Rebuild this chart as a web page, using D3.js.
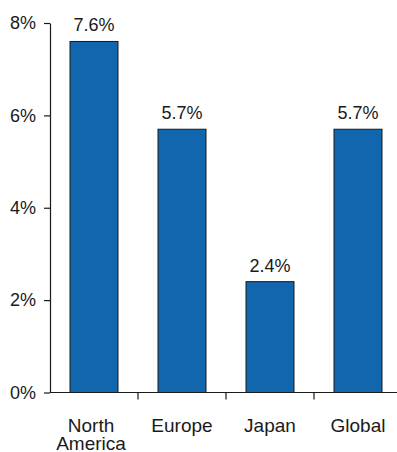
<!DOCTYPE html>
<html>
<head>
<meta charset="utf-8">
<script src="https://cdn.jsdelivr.net/npm/d3@7"></script>
<style>
  body { margin: 0; background: #fff; }
  svg { display: block; font-family: "Liberation Sans", Arial, sans-serif; }
</style>
</head>
<body>
<svg id="chart" width="397" height="452"></svg>
<script>
const categories = ["North America", "Europe", "Japan", "Global"];
const categoryLines = [["North", "America"], ["Europe"], ["Japan"], ["Global"]];
const values = [7.6, 5.7, 2.4, 5.7];
const valueLabels = ["7.6%", "5.7%", "2.4%", "5.7%"];
const yTicks = [0, 2, 4, 6, 8];
const yTickLabels = ["0%", "2%", "4%", "6%", "8%"];

(function () {
const svg = d3.select("#chart");
const mLeft = 50, mRight = 402, mTop = 23, mBottom = 392.5;

const x = d3.scaleBand().domain(categories).range([mLeft, mRight]).padding(0);
const y = d3.scaleLinear().domain([0, 8]).range([mBottom, mTop]);
const barFrac = 48 / 88;

// bars
svg.append("g").selectAll("rect").data(categories).join("rect")
  .attr("x", (c) => x(c) + x.bandwidth() * (1 - barFrac) / 2)
  .attr("width", x.bandwidth() * barFrac)
  .attr("y", (c, i) => y(values[i]))
  .attr("height", (c, i) => y(0) - y(values[i]))
  .attr("fill", "#1166ad")
  .attr("stroke", "#1a1a1a")
  .attr("stroke-width", 1);

// value labels
svg.append("g").selectAll("text").data(categories).join("text")
  .attr("x", (c) => x(c) + x.bandwidth() / 2)
  .attr("y", (c, i) => y(values[i]) - 10)
  .attr("text-anchor", "middle")
  .attr("font-size", 18)
  .attr("fill", "#1a1a1a")
  .text((c, i) => valueLabels[i]);

// y axis
const yAxis = d3.axisLeft(y).tickValues(yTicks)
  .tickFormat((d, i) => yTickLabels[i]).tickSize(6).tickPadding(8).tickSizeOuter(0);
const gy = svg.append("g").attr("transform", `translate(${mLeft},0)`).call(yAxis);
gy.selectAll("path, line").attr("stroke", "#1a1a1a").attr("stroke-width", 1.2);
gy.selectAll("text").attr("font-size", 18).attr("fill", "#1a1a1a")
  .attr("font-family", "'Liberation Sans', Arial, sans-serif");

// x axis line and boundary ticks
const gx = svg.append("g");
gx.append("line").attr("x1", mLeft).attr("x2", mRight).attr("y1", y(0)).attr("y2", y(0))
  .attr("stroke", "#1a1a1a").attr("stroke-width", 1.2);
gx.selectAll("line.tick").data(categories.slice(1)).join("line").attr("class", "tick")
  .attr("x1", (c) => x(c)).attr("x2", (c) => x(c))
  .attr("y1", y(0)).attr("y2", y(0) + 7)
  .attr("stroke", "#1a1a1a").attr("stroke-width", 1.2);

// category labels
const labels = gx.selectAll("text").data(categories).join("text")
  .attr("text-anchor", "middle")
  .attr("font-size", 19)
  .attr("fill", "#1a1a1a");
labels.each(function (c, i) {
  const t = d3.select(this);
  categoryLines[i].forEach((line, j) => {
    t.append("tspan").attr("x", x(c) + x.bandwidth() / 2 - (i === 0 ? 3 : 0))
      .attr("y", 432 + j * 18).text(line);
  });
});
})();
</script>
</body>
</html>
